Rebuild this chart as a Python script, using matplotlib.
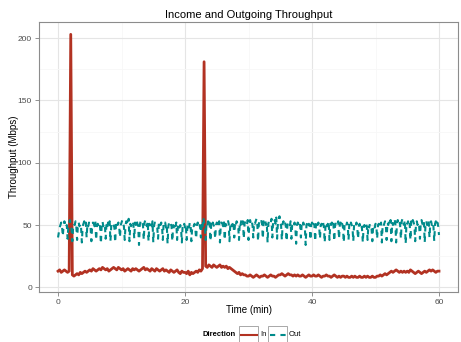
import matplotlib
matplotlib.use("Agg")
import matplotlib.pyplot as plt
from matplotlib.lines import Line2D
from matplotlib.patches import Rectangle
import numpy as np

plt.rcParams['font.family'] = ['Liberation Sans', 'DejaVu Sans']

# incoming samples every 15 s, outgoing every 7.5 s (min)
in_time = np.arange(0, 60.01, 0.25)
out_time = np.arange(0, 60.01, 0.125)

# incoming throughput (Mbps)
in_mbps = [
    13, 14, 12, 13, 14, 13, 12, 13,
    203,
    10, 9, 10, 11, 10, 12, 11, 12, 13, 12, 13,
    14, 13, 15, 14, 13, 14, 15, 14, 16, 15, 14, 15, 13, 14, 15, 16, 15, 14, 16, 15,
    14, 15, 13, 14, 15, 14, 13, 15, 14, 15, 14, 13, 14, 15, 16, 14, 15, 14, 13, 15,
    14, 13, 15, 14, 13, 14, 15, 13, 14, 13, 12, 14, 13, 12, 13, 14, 12, 11, 13, 12,
    12, 11, 13, 10, 12, 11, 12, 13, 12, 14, 13, 15,
    181,
    17, 16, 18, 17, 16, 18, 17, 16, 17, 18, 16, 17, 16, 17, 15, 16, 15, 14, 13,
    12, 11, 12, 10, 11, 10, 10, 9,
    9, 10, 9, 8, 9, 10, 9, 8, 9, 9, 10, 9, 8, 9, 10, 9, 9, 8, 9, 10,
    10, 11, 10, 9, 10, 11, 10, 10, 9, 10, 9, 10, 9, 9, 10, 9, 8, 9, 10, 9,
    9, 10, 9, 9, 10, 9, 8, 9, 9, 10, 9, 9, 8, 9, 10, 9, 8, 9, 8, 9,
    9, 8, 9, 8, 8, 9, 8, 9, 8, 8, 9, 8, 8, 9, 8, 9, 8, 8, 9, 8,
    8, 9, 9, 10, 9, 10, 11, 10, 11, 12, 13, 12, 13, 14, 13, 12, 13, 12, 13, 12,
    13, 12, 14, 13, 12, 11, 12, 13, 12, 11, 12, 13, 12, 13, 14, 13, 14, 13, 12, 13, 13,
]

# outgoing throughput (Mbps)
out_mbps = [
    40, 44, 48, 50, 52, 49, 41, 50, 53, 51, 48, 50, 39, 49, 52, 54,
    50, 47, 37, 48, 51, 50, 53, 49, 38, 50, 52, 49, 51, 48, 36, 49,
    51, 53, 50, 52, 40, 51, 49, 52, 50, 48, 37, 50, 52, 51, 49, 53,
    38, 49, 51, 50, 52, 48, 35, 50, 53, 49, 51, 50, 39, 51, 48, 52,
    50, 53, 37, 49, 52, 51, 50, 48, 36, 51, 53, 50, 52, 49, 40, 50,
    52, 54, 51, 49, 38, 50, 53, 52, 50, 55, 37, 51, 49, 52, 53, 50,
    39, 52, 50, 54, 51, 49, 34, 50, 53, 51, 52, 50, 38, 52, 54, 51,
    49, 53, 37, 51, 50, 52, 49, 53, 36, 50, 52, 51, 49, 48, 39, 51,
    53, 50, 52, 49, 38, 51, 50, 52, 48, 50, 35, 49, 52, 50, 51, 49,
    37, 50, 48, 51, 49, 52, 38, 49, 51, 48, 50, 47, 36, 50, 49, 51,
    48, 50, 38, 49, 51, 48, 52, 50, 37, 48, 50, 49, 51, 47, 39, 50,
    52, 49, 51, 48, 40, 50, 47, 56, 52, 50, 38, 51, 49, 53, 50, 52,
    37, 51, 49, 52, 50, 48, 39, 50, 52, 51, 49, 53, 36, 50, 52, 51,
    49, 53, 38, 51, 50, 52, 54, 51, 37, 50, 52, 49, 51, 53, 40, 52,
    50, 53, 51, 49, 38, 52, 50, 54, 51, 53, 39, 51, 53, 52, 50, 54,
    38, 52, 54, 51, 53, 50, 40, 52, 51, 53, 55, 52, 37, 51, 53, 52,
    54, 51, 39, 53, 52, 54, 50, 52, 36, 51, 54, 53, 52, 55, 40, 53,
    52, 54, 51, 56, 39, 52, 53, 57, 51, 50, 38, 51, 53, 50, 52, 49,
    37, 50, 52, 51, 49, 53, 39, 50, 51, 49, 52, 48, 35, 50, 52, 51,
    53, 50, 40, 51, 49, 52, 50, 48, 34, 50, 52, 49, 51, 50, 38, 50,
    52, 49, 51, 50, 37, 51, 53, 50, 52, 49, 39, 50, 51, 49, 52, 48,
    36, 50, 52, 49, 51, 53, 38, 51, 50, 52, 49, 51, 37, 49, 52, 50,
    51, 53, 39, 50, 52, 49, 51, 48, 36, 50, 51, 49, 52, 50, 38, 51,
    49, 52, 50, 48, 37, 50, 51, 49, 52, 48, 39, 49, 51, 48, 50, 47,
    36, 49, 50, 48, 51, 49, 38, 50, 48, 51, 49, 47, 37, 49, 50, 48,
    51, 50, 39, 49, 51, 48, 50, 52, 36, 50, 49, 51, 53, 50, 38, 52,
    50, 53, 51, 54, 37, 52, 50, 53, 55, 51, 36, 52, 54, 51, 53, 50,
    39, 53, 55, 52, 50, 54, 35, 52, 51, 53, 50, 52, 38, 53, 51, 54,
    52, 50, 37, 51, 53, 50, 52, 49, 39, 52, 54, 51, 50, 53, 36, 51,
    53, 50, 52, 54, 40, 51, 53, 50, 52, 49, 37, 51, 53, 50, 52, 49,
    42,
]

in_color = "#B23222"
out_color = "#008B8B"
out_dash = (0, (2.5, 2.5))

W, H = 461, 342
fig = plt.figure(figsize=(W / 100, H / 100), dpi=100)
ax = fig.add_axes([0.0846, 0.146, 0.909, 0.790])

ax.plot(in_time, in_mbps, color=in_color, lw=2.0)
ax.plot(out_time, out_mbps, color=out_color, lw=1.5, ls=out_dash)

ax.set_xlim(-3, 63)
ax.set_ylim(-3.8, 213)
ax.set_xticks([0, 20, 40, 60])
ax.set_yticks([0, 50, 100, 150, 200])
ax.set_xticks([10, 30, 50], minor=True)
ax.set_yticks([25, 75, 125, 175], minor=True)
ax.grid(which="major", color="#E5E5E5", lw=0.8)
ax.grid(which="minor", color="#F7F7F7", lw=0.6)
ax.set_axisbelow(True)
for s in ax.spines.values():
    s.set_color("#8C8C8C")
    s.set_linewidth(0.8)
ax.tick_params(which="major", length=3, width=0.6, color="#7F7F7F",
               labelsize=6, labelcolor="#4D4D4D", pad=2)
ax.tick_params(which="minor", length=0)

ax.set_title("Income and Outgoing Throughput", fontsize=8, pad=3)
ax.set_xlabel("Time (min)", fontsize=7, labelpad=-1)
ax.set_ylabel("Throughput (Mbps)", fontsize=7, labelpad=-1)

# legend drawn ggplot-style: title, boxed keys, labels
def px(x, y):
    return x / W, 1 - y / H

fig.text(*px(236, 335), "Direction", fontsize=5.5, fontweight="bold",
         ha="right", va="center")
keys = [("In", in_color, "-", 239), ("Out", out_color, out_dash, 268)]
for label, col, ls, x0 in keys:
    bx, by = px(x0, 342)
    fig.patches.append(Rectangle((bx, by), 19 / W, 16 / H, transform=fig.transFigure,
                                 fill=False, edgecolor="#9A9A9A", lw=0.6))
    lx0, ly = px(x0 + 1.5, 335)
    lx1, _ = px(x0 + 17.5, 335)
    fig.lines.append(Line2D([lx0, lx1], [ly, ly], transform=fig.transFigure,
                            color=col, lw=1.5, ls=ls))
    fig.text(*px(x0 + 21, 335), label, fontsize=5.5, ha="left", va="center")

fig.savefig("out.png", dpi=100)
